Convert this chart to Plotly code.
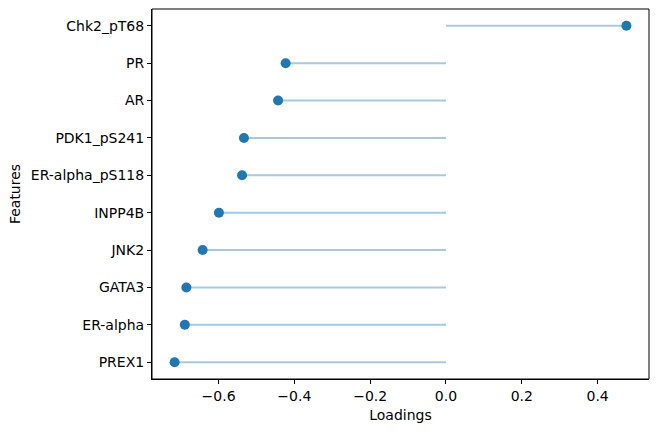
import plotly.graph_objects as go

features = ["PREX1", "ER-alpha", "GATA3", "JNK2", "INPP4B",
            "ER-alpha_pS118", "PDK1_pS241", "AR", "PR", "Chk2_pT68"]
loadings = [-0.716, -0.689, -0.685, -0.642, -0.599,
            -0.538, -0.533, -0.443, -0.423, 0.476]
x_ticks = [-0.6, -0.4, -0.2, 0.0, 0.2, 0.4]
x_tick_labels = ["\u22120.6", "\u22120.4", "\u22120.2", "0.0", "0.2", "0.4"]

FONT = "DejaVu Sans"
FS = 14

lx, ly = [], []
for f, v in zip(features, loadings):
    lx += [0, v, None]
    ly += [f, f, None]

fig = go.Figure()
fig.add_trace(go.Scatter(x=lx, y=ly, mode="lines",
                         line=dict(color="#a5c9e1", width=2),
                         hoverinfo="skip", showlegend=False))
fig.add_trace(go.Scatter(x=loadings, y=features, mode="markers",
                         marker=dict(color="#1f77b4", size=10),
                         showlegend=False))

lo, hi = min(loadings + [0]), max(loadings + [0])
pad = (hi - lo) * 0.05
n = len(features)

fig.add_shape(type="rect", xref="paper", yref="paper", x0=0, y0=0, x1=1, y1=1,
              line=dict(color="black", width=1), layer="above")

fig.update_layout(
    width=658, height=432,
    margin=dict(l=152, r=9, t=9, b=53),
    paper_bgcolor="white", plot_bgcolor="white",
    font=dict(family=FONT, size=FS, color="black"),
    xaxis=dict(range=[lo - pad, hi + pad], tickvals=x_ticks, ticktext=x_tick_labels,
               showgrid=False, zeroline=False, showline=True, linecolor="black",
               linewidth=1, ticks="outside", ticklen=4, tickcolor="black",
               title=dict(text="Loadings", standoff=7,
                          font=dict(family=FONT, size=FS, color="black"))),
    yaxis=dict(type="category", categoryorder="array", categoryarray=features,
               range=[-0.45, n - 1 + 0.45],
               showgrid=False, zeroline=False, showline=True, linecolor="black",
               linewidth=1, ticks="outside", ticklen=4, tickcolor="black",
               title=dict(text="Features", standoff=6,
                          font=dict(family=FONT, size=FS, color="black"))),
)

fig.write_html("out.html", config={"displayModeBar": False},
               post_script="document.body.style.margin='0';document.body.style.overflow='hidden';")
